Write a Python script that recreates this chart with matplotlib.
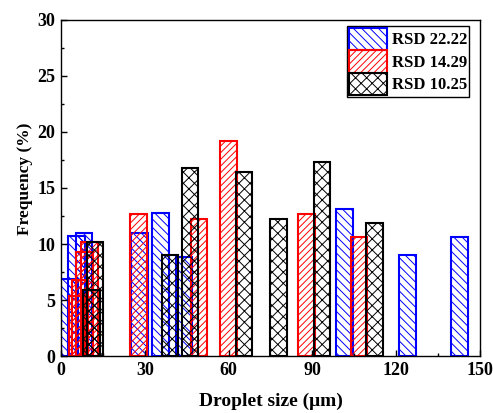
import matplotlib
matplotlib.use("Agg")
import matplotlib.pyplot as plt
from matplotlib.ticker import MultipleLocator

plt.rcParams['font.family'] = ['Liberation Serif', 'DejaVu Serif']
plt.rcParams['font.weight'] = 'bold'
plt.rcParams['hatch.linewidth'] = 0.7

# Data (droplet size in um, frequency in %)
blue_x = [3.0, 5.5, 8.2, 28.0, 35.6, 44.0, 101.5, 124.0, 142.6]
blue_y = [6.9, 10.7, 11.0, 11.0, 12.8, 8.8, 13.1, 9.0, 10.6]
red_x = [5.7, 6.8, 8.5, 10.3, 27.7, 49.4, 60.0, 88.0, 106.7]
red_y = [5.4, 6.8, 9.3, 10.2, 12.7, 12.2, 19.2, 12.7, 10.6]
black_x = [11.0, 12.2, 39.0, 46.2, 65.5, 78.0, 93.4, 112.2]
black_y = [5.9, 10.2, 9.0, 16.8, 16.4, 12.2, 17.3, 11.9]
labels = ['RSD 22.22', 'RSD 14.29', 'RSD 10.25']
xticks = [0, 30, 60, 90, 120, 150]
yticks = [0, 5, 10, 15, 20, 25, 30]

fig = plt.figure(figsize=(4.93, 4.13), dpi=100)
ax = fig.add_axes([0.1237, 0.138, 0.8499, 0.8136])

w = 6.0
ax.bar(blue_x, blue_y, width=w, facecolor='none', edgecolor='#0000ff', hatch='\\\\\\\\', linewidth=1.5, label=labels[0])
ax.bar(red_x, red_y, width=w, facecolor='none', edgecolor='#ff0000', hatch='/////', linewidth=1.5, label=labels[1])
ax.bar(black_x, black_y, width=w, facecolor='none', edgecolor='#000000', hatch='xxx', linewidth=1.5, label=labels[2])

ax.set_xlim(0, 150)
ax.set_ylim(0, 30)
ax.set_xticks(xticks)
ax.set_yticks(yticks)
ax.xaxis.set_minor_locator(MultipleLocator(15))
ax.yaxis.set_minor_locator(MultipleLocator(2.5))
ax.tick_params(which='both', direction='in', top=False, right=False, labelsize=13)
ax.tick_params(which='major', length=4, width=1, pad=4)
ax.tick_params(which='minor', length=2.5, width=1)
for s in ax.spines.values():
    s.set_linewidth(1.0)

ax.set_xlabel('Droplet size (\u03bcm)', fontsize=14, fontweight='bold', labelpad=10)
ax.set_ylabel('Frequency (%)', fontsize=12.5, fontweight='bold')
ax.yaxis.set_label_coords(-0.066, 0.527)

leg = ax.legend(loc='upper right', bbox_to_anchor=(0.973, 0.982), borderaxespad=0,
                handlelength=2.3, handleheight=1.7, labelspacing=0.0,
                borderpad=0.1, handletextpad=0.25, fancybox=False, framealpha=1,
                edgecolor='black', prop={'weight': 'bold', 'size': 12})
leg.get_frame().set_linewidth(1.0)

fig.savefig('out.png', dpi=100)
